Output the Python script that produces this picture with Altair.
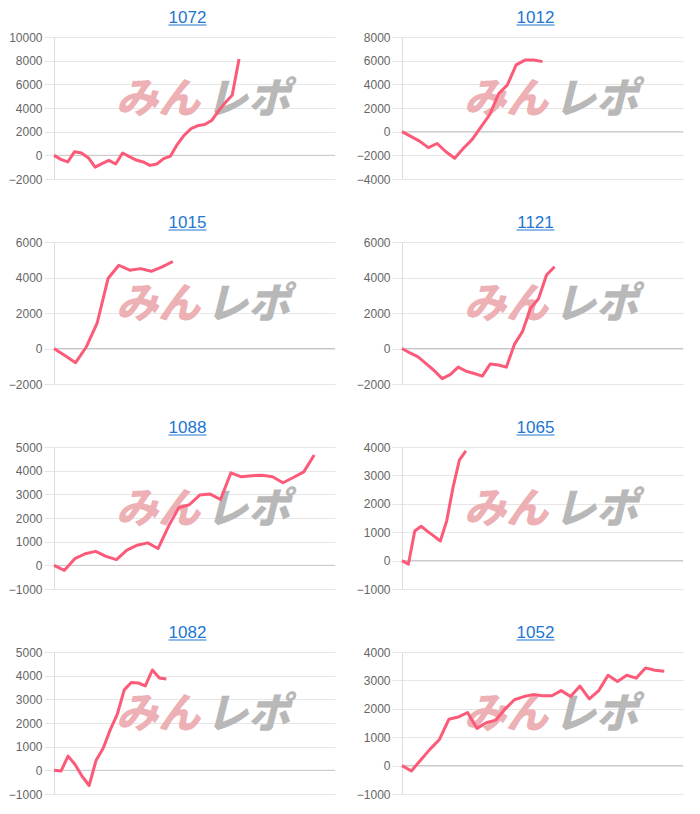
import altair as alt
import pandas as pd

titles = ["1072", "1012", "1015", "1121", "1088", "1065", "1082", "1052"]

v1072 = [0, -340, -560, 310, 200, -200, -1000, -700, -420, -730, 200, -110, -400,
         -560, -850, -730, -280, -60, 930, 1700, 2260, 2510, 2600, 2940, 3760, 4460,
         5080, 8140]
v1012 = [0, -400, -800, -1350, -1000, -1700, -2250, -1400, -650, 400, 1450, 3200,
         3950, 5650, 6050, 6050, 5920]
v1015 = [0, -400, -800, 100, 1450, 3940, 4690, 4410, 4500, 4350, 4600, 4900]
v1121 = [0, -250, -470, -850, -1240, -1700, -1470, -1050, -1280, -1410, -1560, -870,
         -930, -1050, 230, 950, 2250, 2800, 4140, 4610]
v1088 = [0, -210, 280, 490, 590, 380, 240, 640, 850, 950, 710, 1650, 2440, 2560,
         2970, 3010, 2780, 3910, 3740, 3790, 3810, 3740, 3490, 3710, 3950, 4660]
v1065 = [0, -130, 1040, 1210, 1030, 860, 690, 1400, 2590, 3550, 3860]
v1082 = [0, -30, 600, 250, -250, -640, 430, 930, 1710, 2360, 3400, 3710, 3690, 3570,
         4240, 3900, 3860]
v1052 = [0, -190, 200, 580, 920, 1630, 1710, 1870, 1310, 1510, 1600, 1990, 2320, 2430,
         2500, 2460, 2460, 2640, 2430, 2800, 2350, 2640, 3180, 2960, 3180, 3080, 3440,
         3360, 3320]

series = [v1072, v1012, v1015, v1121, v1088, v1065, v1082, v1052]
x_slots = [41, 32, 26, 35, 27, 44, 40, 30]
y_min = [-2000, -4000, -2000, -2000, -1000, -1000, -1000, -1000]
y_max = [10000, 8000, 6000, 6000, 5000, 4000, 5000, 4000]
y_step = [2000, 2000, 2000, 2000, 1000, 1000, 1000, 1000]

LINE = "#fb5a78"
TITLE = "#2276d2"
GRID = "#e6e6e6"
PINK = "#ecb0b5"
GRAY = "#b8b8b8"

W = 281
H = 142


def panel(i):
    vals = series[i]
    df = pd.DataFrame({"x": list(range(len(vals))), "y": vals})
    lo, hi, st = y_min[i], y_max[i], y_step[i]
    xs = alt.Scale(domain=[0, x_slots[i]], nice=False, zero=False)
    ys = alt.Scale(domain=[lo, hi], nice=False, zero=False)
    yaxis = alt.Axis(
        values=list(range(lo, hi + 1, st)), title=None, grid=True, format="d",
        gridColor=GRID, tickSize=10, tickColor=GRID, domainColor="#dcdcdc",
        labelColor="#666666", labelFontSize=12, labelFont="Arial",
        labelPadding=2)

    zero = alt.Chart(pd.DataFrame({"y": [0]})).mark_rule(color="#c6c6c6").encode(
        y=alt.Y("y:Q", scale=ys, axis=yaxis)
    )
    line = alt.Chart(df).mark_line(color=LINE, strokeWidth=3, strokeJoin="round").encode(
        x=alt.X("x:Q", scale=xs, axis=None),
        y=alt.Y("y:Q", scale=ys, axis=yaxis),
    )
    wm1 = alt.Chart(pd.DataFrame({"t": ["みん"]})).mark_text(
        font="Noto Sans CJK JP", fontSize=42, fontWeight=900, fontStyle="italic",
        color=PINK, align="center", baseline="middle"
    ).encode(x=alt.value(104), y=alt.value(63), text="t:N")
    wm2 = alt.Chart(pd.DataFrame({"t": ["レポ"]})).mark_text(
        font="Noto Sans CJK JP", fontSize=42, fontWeight=900, fontStyle="italic",
        color=GRAY, align="center", baseline="middle"
    ).encode(x=alt.value(194), y=alt.value(63), text="t:N")
    cx = W / 2 - 7
    ttl = alt.Chart(pd.DataFrame({"t": [titles[i]]})).mark_text(
        font="Arial", fontSize=17, color=TITLE, align="center", baseline="alphabetic"
    ).encode(x=alt.value(cx), y=alt.value(-14), text="t:N")
    ul = alt.Chart(pd.DataFrame({"t": [titles[i]]})).mark_rule(
        color=TITLE, strokeWidth=1.2
    ).encode(x=alt.value(cx - 19), x2=alt.value(cx + 19), y=alt.value(-12))

    return alt.layer(wm1, wm2, zero, line, ttl, ul).properties(width=W, height=H)


chart = alt.concat(
    *[panel(i) for i in range(8)], columns=2, bounds="flush",
    spacing={"row": 63, "column": 67}
).properties(
    padding={"left": 0, "top": 1, "right": 5, "bottom": 5}
).configure_view(stroke=None)

chart.save("out.html", embed_options={"renderer": "svg", "actions": False})
